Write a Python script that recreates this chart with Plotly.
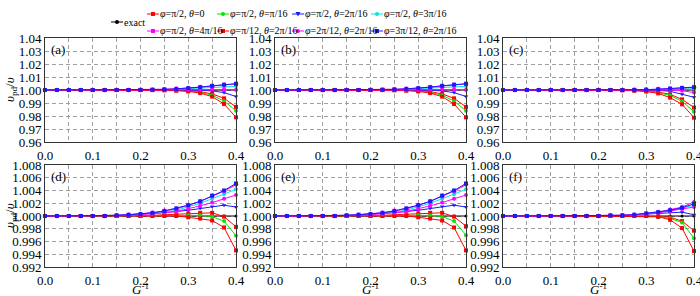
import plotly.graph_objects as go

G_INV = [0.0, 0.025, 0.05, 0.075, 0.1, 0.125, 0.15, 0.175, 0.2, 0.225, 0.25, 0.275, 0.3, 0.325, 0.35, 0.375, 0.4]
EXACT = [1.0] * 17

SERIES_NAMES = [
    "<i>φ</i>=π/2, <i>θ</i>=0",
    "<i>φ</i>=π/2, <i>θ</i>=π/16",
    "<i>φ</i>=π/2, <i>θ</i>=2π/16",
    "<i>φ</i>=π/2, <i>θ</i>=3π/16",
    "<i>φ</i>=π/2, <i>θ</i>=4π/16",
    "<i>φ</i>=π/12, <i>θ</i>=2π/16",
    "<i>φ</i>=2π/12, <i>θ</i>=2π/16",
    "<i>φ</i>=3π/12, <i>θ</i>=2π/16",
]
SERIES_COLORS = ["#ff0000", "#00e600", "#1a1aff", "#00e5e5", "#ff00ff", "#ff0000", "#ff00ff", "#1a1aff"]
SERIES_SYMBOLS = ["square", "circle", "triangle-down", "circle", "diamond", "square", "circle", "square"]

# Panel (a)
A_RED0 = [1.0, 1.0, 1.0, 1.0, 1.0, 1.0, 1.0, 1.0, 1.0, 1.0, 0.9999, 0.9998, 0.9994, 0.9987, 0.9970, 0.9936, 0.9870]
A_GREEN = [1.0, 1.0, 1.0, 1.0, 1.0, 1.0, 1.0, 1.0, 1.0, 1.0, 0.9999, 0.9997, 0.9992, 0.9982, 0.9960, 0.9915, 0.9840]
A_BLUET = [1.0, 1.0, 1.0, 1.0, 1.0, 1.0, 1.0, 1.0, 1.0, 1.0, 1.0, 1.0, 1.0, 0.9998, 0.9993, 0.9980, 0.9950]
A_CYAN = [1.0, 1.0, 1.0, 1.0, 1.0, 1.0, 1.0, 1.0, 1.0, 1.0001, 1.0003, 1.0006, 1.0010, 1.0014, 1.0020, 1.0025, 1.0028]
A_MAG4 = [1.0, 1.0, 1.0, 1.0, 1.0, 1.0, 1.0, 1.0, 1.0001, 1.0002, 1.0005, 1.0009, 1.0014, 1.0022, 1.0031, 1.0040, 1.0047]
A_RED12 = [1.0, 1.0, 1.0, 1.0, 1.0, 1.0, 1.0, 1.0, 1.0, 0.9999, 0.9998, 0.9995, 0.9989, 0.9976, 0.9949, 0.9892, 0.9790]
A_MAG212 = [1.0, 1.0, 1.0, 1.0, 1.0, 1.0, 1.0, 1.0, 1.0, 1.0, 1.0001, 1.0002, 1.0003, 1.0004, 1.0005, 1.0005, 1.0002]
A_BLUE312 = [1.0, 1.0, 1.0, 1.0, 1.0, 1.0, 1.0, 1.0, 1.0001, 1.0003, 1.0005, 1.0009, 1.0014, 1.0022, 1.0032, 1.0041, 1.0048]

# Panel (b)
B_RED0 = [1.0, 1.0, 1.0, 1.0, 1.0, 1.0, 1.0, 1.0, 1.0, 1.0, 0.9999, 0.9998, 0.9994, 0.9987, 0.9970, 0.9936, 0.9870]
B_GREEN = [1.0, 1.0, 1.0, 1.0, 1.0, 1.0, 1.0, 1.0, 1.0, 1.0, 0.9999, 0.9997, 0.9992, 0.9982, 0.9960, 0.9915, 0.9840]
B_BLUET = [1.0, 1.0, 1.0, 1.0, 1.0, 1.0, 1.0, 1.0, 1.0, 1.0, 1.0, 1.0, 1.0, 0.9998, 0.9993, 0.9980, 0.9950]
B_CYAN = [1.0, 1.0, 1.0, 1.0, 1.0, 1.0, 1.0, 1.0, 1.0, 1.0001, 1.0003, 1.0006, 1.0010, 1.0014, 1.0020, 1.0025, 1.0028]
B_MAG4 = [1.0, 1.0, 1.0, 1.0, 1.0, 1.0, 1.0, 1.0, 1.0001, 1.0002, 1.0005, 1.0009, 1.0014, 1.0022, 1.0031, 1.0040, 1.0047]
B_RED12 = [1.0, 1.0, 1.0, 1.0, 1.0, 1.0, 1.0, 1.0, 1.0, 0.9999, 0.9998, 0.9995, 0.9989, 0.9976, 0.9949, 0.9892, 0.9790]
B_MAG212 = [1.0, 1.0, 1.0, 1.0, 1.0, 1.0, 1.0, 1.0, 1.0, 1.0, 1.0001, 1.0002, 1.0003, 1.0004, 1.0005, 1.0005, 1.0002]
B_BLUE312 = [1.0, 1.0, 1.0, 1.0, 1.0, 1.0, 1.0, 1.0, 1.0001, 1.0003, 1.0005, 1.0009, 1.0014, 1.0022, 1.0032, 1.0041, 1.0048]

# Panel (c)
C_RED0 = [1.0, 1.0, 1.0, 1.0, 1.0, 1.0, 1.0, 1.0, 1.0, 1.0, 0.9999, 0.9997, 0.9993, 0.9984, 0.9967, 0.9928, 0.9865]
C_GREEN = [1.0, 1.0, 1.0, 1.0, 1.0, 1.0, 1.0, 1.0, 1.0, 1.0, 0.9999, 0.9996, 0.9991, 0.9980, 0.9958, 0.9913, 0.9833]
C_BLUET = [1.0, 1.0, 1.0, 1.0, 1.0, 1.0, 1.0, 1.0, 1.0, 1.0, 1.0, 1.0, 1.0, 0.9997, 0.9990, 0.9967, 0.9944]
C_CYAN = [1.0, 1.0, 1.0, 1.0, 1.0, 1.0, 1.0, 1.0, 1.0, 1.0, 1.0, 1.0001, 1.0002, 1.0004, 1.0007, 1.0010, 1.0010]
C_MAG4 = [1.0, 1.0, 1.0, 1.0, 1.0, 1.0, 1.0, 1.0, 1.0, 1.0, 1.0, 1.0001, 1.0003, 1.0006, 1.0011, 1.0016, 1.0020]
C_RED12 = [1.0, 1.0, 1.0, 1.0, 1.0, 1.0, 1.0, 1.0, 1.0, 1.0, 0.9998, 0.9995, 0.9988, 0.9974, 0.9941, 0.9890, 0.9787]
C_MAG212 = [1.0, 1.0, 1.0, 1.0, 1.0, 1.0, 1.0, 1.0, 1.0, 1.0, 1.0, 1.0, 1.0001, 1.0001, 1.0000, 0.9995, 0.9980]
C_BLUE312 = [1.0, 1.0, 1.0, 1.0, 1.0, 1.0, 1.0, 1.0, 1.0, 1.0, 1.0, 1.0001, 1.0003, 1.0006, 1.0011, 1.0016, 1.0022]

# Panel (d)
D_RED0 = [1.0, 1.0, 1.0, 1.0, 1.0, 1.0, 1.0, 1.0, 1.0, 1.0001, 1.0002, 1.0003, 1.0004, 1.0005, 1.0005, 0.9999, 0.9983]
D_GREEN = [1.0, 1.0, 1.0, 1.0, 1.0, 1.0, 1.0, 1.0, 1.0, 1.0, 1.0001, 1.0001, 1.0001, 1.0001, 0.9999, 0.9992, 0.9969]
D_BLUET = [1.0, 1.0, 1.0, 1.0, 1.0, 1.0, 1.0001, 1.0002, 1.0003, 1.0004, 1.0005, 1.0007, 1.0009, 1.0012, 1.0015, 1.0017, 1.0014]
D_CYAN = [1.0, 1.0, 1.0, 1.0, 1.0, 1.0, 1.0001, 1.0002, 1.0003, 1.0004, 1.0006, 1.0009, 1.0014, 1.0020, 1.0027, 1.0034, 1.0042]
D_MAG4 = [1.0, 1.0, 1.0, 1.0, 1.0, 1.0, 1.0001, 1.0002, 1.0003, 1.0005, 1.0008, 1.0011, 1.0017, 1.0023, 1.0031, 1.0039, 1.0049]
D_RED12 = [1.0, 1.0, 1.0, 1.0, 1.0, 1.0, 1.0, 1.0, 1.0, 1.0, 1.0, 1.0, 0.9998, 0.9996, 0.9993, 0.9982, 0.9946]
D_MAG212 = [1.0, 1.0, 1.0, 1.0, 1.0, 1.0, 1.0, 1.0001, 1.0002, 1.0003, 1.0005, 1.0007, 1.0011, 1.0016, 1.0021, 1.0027, 1.0033]
D_BLUE312 = [1.0, 1.0, 1.0, 1.0, 1.0, 1.0, 1.0001, 1.0002, 1.0003, 1.0005, 1.0008, 1.0012, 1.0017, 1.0023, 1.0032, 1.0040, 1.0051]

# Panel (e)
E_RED0 = [1.0, 1.0, 1.0, 1.0, 1.0, 1.0, 1.0, 1.0, 1.0, 1.0001, 1.0002, 1.0003, 1.0004, 1.0005, 1.0005, 0.9999, 0.9984]
E_GREEN = [1.0, 1.0, 1.0, 1.0, 1.0, 1.0, 1.0, 1.0, 1.0, 1.0, 1.0001, 1.0001, 1.0001, 1.0001, 0.9999, 0.9992, 0.9970]
E_BLUET = [1.0, 1.0, 1.0, 1.0, 1.0, 1.0, 1.0001, 1.0002, 1.0003, 1.0004, 1.0005, 1.0007, 1.0009, 1.0012, 1.0015, 1.0017, 1.0014]
E_CYAN = [1.0, 1.0, 1.0, 1.0, 1.0, 1.0, 1.0001, 1.0002, 1.0003, 1.0004, 1.0006, 1.0009, 1.0014, 1.0020, 1.0027, 1.0034, 1.0042]
E_MAG4 = [1.0, 1.0, 1.0, 1.0, 1.0, 1.0, 1.0001, 1.0002, 1.0003, 1.0005, 1.0008, 1.0011, 1.0017, 1.0023, 1.0031, 1.0039, 1.0049]
E_RED12 = [1.0, 1.0, 1.0, 1.0, 1.0, 1.0, 1.0, 1.0, 1.0, 1.0, 1.0, 1.0, 0.9998, 0.9996, 0.9993, 0.9982, 0.9946]
E_MAG212 = [1.0, 1.0, 1.0, 1.0, 1.0, 1.0, 1.0, 1.0001, 1.0002, 1.0003, 1.0005, 1.0007, 1.0011, 1.0016, 1.0021, 1.0027, 1.0033]
E_BLUE312 = [1.0, 1.0, 1.0, 1.0, 1.0, 1.0, 1.0001, 1.0002, 1.0003, 1.0005, 1.0008, 1.0012, 1.0017, 1.0023, 1.0032, 1.0040, 1.0051]

# Panel (f)
F_RED0 = [1.0, 1.0, 1.0, 1.0, 1.0, 1.0, 1.0, 1.0, 1.0, 1.0, 1.0, 1.0, 1.0, 0.9999, 0.9998, 0.9992, 0.9977]
F_GREEN = [1.0, 1.0, 1.0, 1.0, 1.0, 1.0, 1.0, 1.0, 1.0, 1.0, 1.0, 1.0, 1.0, 0.9999, 0.9996, 0.9990, 0.9965]
F_BLUET = [1.0, 1.0, 1.0, 1.0, 1.0, 1.0, 1.0, 1.0, 1.0, 1.0001, 1.0001, 1.0002, 1.0003, 1.0005, 1.0006, 1.0006, 1.0002]
F_CYAN = [1.0, 1.0, 1.0, 1.0, 1.0, 1.0, 1.0, 1.0, 1.0, 1.0, 1.0001, 1.0002, 1.0003, 1.0005, 1.0008, 1.0012, 1.0017]
F_MAG4 = [1.0, 1.0, 1.0, 1.0, 1.0, 1.0, 1.0, 1.0, 1.0, 1.0001, 1.0001, 1.0002, 1.0004, 1.0006, 1.0010, 1.0014, 1.0022]
F_RED12 = [1.0, 1.0, 1.0, 1.0, 1.0, 1.0, 1.0, 1.0, 1.0, 1.0, 1.0, 1.0, 1.0, 0.9999, 0.9994, 0.9981, 0.9945]
F_MAG212 = [1.0, 1.0, 1.0, 1.0, 1.0, 1.0, 1.0, 1.0, 1.0, 1.0, 1.0001, 1.0002, 1.0003, 1.0005, 1.0008, 1.0011, 1.0014]
F_BLUE312 = [1.0, 1.0, 1.0, 1.0, 1.0, 1.0, 1.0, 1.0, 1.0, 1.0001, 1.0001, 1.0002, 1.0004, 1.0006, 1.0009, 1.0013, 1.0019]

PANELS = [
    ("(a)", [A_RED0, A_GREEN, A_BLUET, A_CYAN, A_MAG4, A_RED12, A_MAG212, A_BLUE312]),
    ("(b)", [B_RED0, B_GREEN, B_BLUET, B_CYAN, B_MAG4, B_RED12, B_MAG212, B_BLUE312]),
    ("(c)", [C_RED0, C_GREEN, C_BLUET, C_CYAN, C_MAG4, C_RED12, C_MAG212, C_BLUE312]),
    ("(d)", [D_RED0, D_GREEN, D_BLUET, D_CYAN, D_MAG4, D_RED12, D_MAG212, D_BLUE312]),
    ("(e)", [E_RED0, E_GREEN, E_BLUET, E_CYAN, E_MAG4, E_RED12, E_MAG212, E_BLUE312]),
    ("(f)", [F_RED0, F_GREEN, F_BLUET, F_CYAN, F_MAG4, F_RED12, F_MAG212, F_BLUE312]),
]

W, H = 700, 296
FONT = "Liberation Serif"
X_DOMAINS = [(45, 236), (275, 466), (503, 694)]
Y_DOMAINS = [(38, 142), (165, 267)]
TXT = dict(family=FONT, size=13, color="black")
GRID = "#a0a0a0"

fig = go.Figure()
layout = {}
annotations = []
shapes = []
for p, (label, series) in enumerate(PANELS):
    r, c = divmod(p, 3)
    k = p + 1
    xa = "x" if k == 1 else f"x{k}"
    ya = "y" if k == 1 else f"y{k}"
    fig.add_trace(go.Scatter(
        x=G_INV, y=EXACT, mode="lines+markers", name="exact",
        line=dict(color="black", width=1), marker=dict(size=3, color="black"),
        xaxis=xa, yaxis=ya, showlegend=False, cliponaxis=False))
    for i, ys in enumerate(series):
        fig.add_trace(go.Scatter(
            x=G_INV, y=ys, mode="lines+markers", name=SERIES_NAMES[i],
            line=dict(color=SERIES_COLORS[i], width=1),
            marker=dict(size=4, color=SERIES_COLORS[i], symbol=SERIES_SYMBOLS[i]),
            xaxis=xa, yaxis=ya, showlegend=False, cliponaxis=False))
    x0, x1 = X_DOMAINS[c]
    y0, y1 = Y_DOMAINS[r]
    if r == 0:
        yr, dt, fmt = [0.96, 1.04], 0.01, ".2f"
    else:
        yr, dt, fmt = [0.992, 1.008], 0.002, ".3f"
    layout["xaxis" if k == 1 else f"xaxis{k}"] = dict(
        domain=[x0 / W, x1 / W], anchor=ya, range=[0, 0.4], dtick=0.1, tickformat=".1f",
        showline=True, mirror=True, linecolor="#333", linewidth=1,
        showgrid=True, gridcolor=GRID, griddash="4px,3px", gridwidth=1,
        minor=dict(dtick=0.05, showgrid=True, gridcolor=GRID, griddash="4px,3px"),
        zeroline=False, ticks="", automargin=False, tickfont=TXT, ticklabelstandoff=1,
        ticklabeloverflow="allow",
    )
    layout["yaxis" if k == 1 else f"yaxis{k}"] = dict(
        domain=[1 - y1 / H, 1 - y0 / H], anchor=xa, range=yr, dtick=dt, tickformat=fmt,
        showline=True, mirror=True, linecolor="#333", linewidth=1,
        showgrid=True, gridcolor=GRID, griddash="4px,3px", gridwidth=1,
        zeroline=False, ticks="", automargin=False, tickfont=TXT, ticklabeloverflow="allow",
    )
    annotations.append(dict(text=label, xref=f"{xa} domain", yref=f"{ya} domain", x=0.02, y=0.98,
                            xanchor="left", yanchor="top", showarrow=False, font=TXT))
    if c == 0:
        annotations.append(dict(text="<i>υ</i><sub>pd</sub>/<i>υ</i>", xref="paper", yref="paper",
                                x=10 / W, y=1 - (y0 + y1) / 2 / H, textangle=-90,
                                xanchor="center", yanchor="middle", showarrow=False, font=TXT))
    if r == 1:
        annotations.append(dict(text="<i>G</i><sup>-1</sup>", xref="paper", yref="paper",
                                x=(x0 + x1) / 2 / W, y=1 - 289 / H,
                                xanchor="center", yanchor="middle", showarrow=False, font=TXT))

# Legend drawn as decorations in paper coordinates
LEG_FONT = dict(family=FONT, size=10, color="black")
def legend_key(cx, cy, color, symbol, text):
    shapes.append(dict(type="line", xref="paper", yref="paper",
                       x0=(cx - 6) / W, x1=(cx + 6) / W, y0=1 - cy / H, y1=1 - cy / H,
                       line=dict(color=color, width=1)))
    s = 2
    if symbol == "circle":
        shapes.append(dict(type="circle", xref="paper", yref="paper",
                           x0=(cx - s) / W, x1=(cx + s) / W, y0=1 - (cy + s) / H, y1=1 - (cy - s) / H,
                           fillcolor=color, line=dict(color=color, width=0)))
    elif symbol == "triangle-down":
        path = f"M {(cx - 2.5) / W} {1 - (cy - 2) / H} L {(cx + 2.5) / W} {1 - (cy - 2) / H} L {cx / W} {1 - (cy + 2.5) / H} Z"
        shapes.append(dict(type="path", xref="paper", yref="paper", path=path,
                           fillcolor=color, line=dict(color=color, width=0)))
    else:
        shapes.append(dict(type="rect", xref="paper", yref="paper",
                           x0=(cx - s) / W, x1=(cx + s) / W, y0=1 - (cy + s) / H, y1=1 - (cy - s) / H,
                           fillcolor=color, line=dict(color=color, width=0)))
    annotations.append(dict(text=text, xref="paper", yref="paper", x=(cx + 5) / W, y=1 - cy / H,
                            xanchor="left", yanchor="middle", showarrow=False, font=LEG_FONT))

legend_key(117, 22, "black", "circle", "exact")
COL_X = [153, 223, 298, 377]
ROW_Y = [14, 31]
for i in range(8):
    legend_key(COL_X[i % 4], ROW_Y[i // 4], SERIES_COLORS[i], SERIES_SYMBOLS[i], SERIES_NAMES[i])

fig.update_layout(
    width=W, height=H, margin=dict(l=0, r=0, t=0, b=0),
    paper_bgcolor="white", plot_bgcolor="white", showlegend=False,
    font=dict(family=FONT, size=12, color="black"),
    annotations=annotations, shapes=shapes,
    **layout,
)
fig.write_html("out.html", config={"displayModeBar": False},
               post_script="document.body.style.margin='0';")
